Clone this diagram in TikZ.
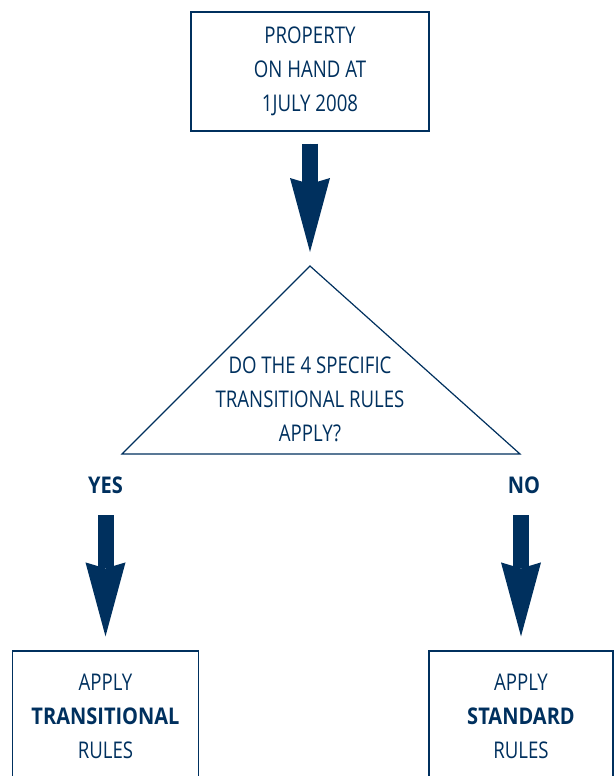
\documentclass[tikz,border=0pt]{standalone}
\usepackage{fontspec}
\setmainfont[FakeStretch=0.81,BoldFeatures={FakeStretch=0.87}]{Open Sans}
\usetikzlibrary{arrows.meta}
\definecolor{navy}{RGB}{0,48,94}
\begin{document}
\begin{tikzpicture}[x=1pt,y=-1pt,
  box/.style={draw=navy, line width=1.2pt, text=navy, align=center,
    font=\fontsize{23}{34}\selectfont, inner sep=0pt},
  txt/.style={text=navy, align=center, font=\fontsize{23}{34}\selectfont, inner sep=0pt},
  lab/.style={text=navy, font=\fontsize{23}{34}\selectfont\bfseries, inner sep=0pt},
  bigarrow/.style={draw=navy, fill=navy, line width=16pt,
    -{Stealth[width=40pt,length=74pt,inset=6pt,line width=0pt]}}]
\useasboundingbox (0,0) rectangle (614,776);
\clip (0,0) rectangle (614,776);
\node[box, minimum width=238pt, minimum height=119pt] (top) at (310,71.5)
  {PROPERTY\\ON HAND AT\\1JULY 2008};
\coordinate (apex) at (310,266);
\coordinate (bl) at (122,454);
\coordinate (br) at (520,454);
\draw[navy, line width=1.2pt] (apex) -- (bl) -- (br) -- cycle;
\node[txt] (q) at (310,399.5) {DO THE 4 SPECIFIC\\TRANSITIONAL RULES\\APPLY?};
\node[lab] (yes) at (105.5,485) {YES};
\node[lab] (no) at (524,485) {NO};
\node[box, minimum width=186pt, minimum height=130pt] (lbox) at (105.5,716)
  {APPLY\\\textbf{TRANSITIONAL}\\RULES};
\node[box, minimum width=184pt, minimum height=130pt] (rbox) at (521,716)
  {APPLY\\\textbf{STANDARD}\\RULES};
\coordinate (nostart) at (521,515);
\draw[bigarrow] ([yshift=-12pt]top.south) -- ([yshift=14pt]apex);
\draw[bigarrow] ([yshift=-30pt]yes.center) -- ([yshift=14pt]lbox.north);
\draw[bigarrow] (nostart) -- ([yshift=14pt]rbox.north);
\end{tikzpicture}
\end{document}
